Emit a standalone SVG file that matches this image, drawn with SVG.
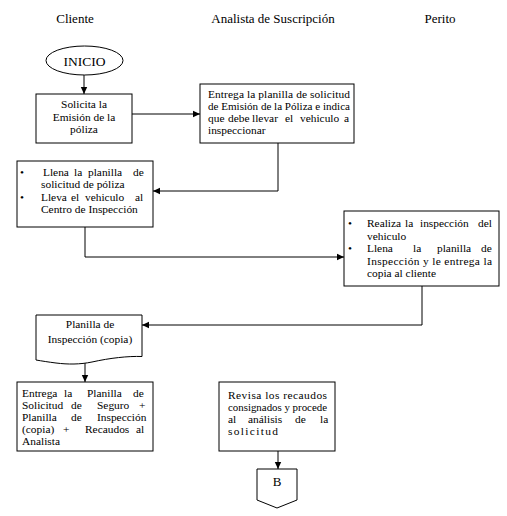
<svg xmlns="http://www.w3.org/2000/svg" width="507" height="516" viewBox="0 0 507 516">
<defs>
<style>
text{font-family:'Liberation Serif','Times New Roman','DejaVu Serif',serif;fill:#000}
.h{font-size:13px}
.t{font-size:11.4px}
.c{text-anchor:middle}
.s{fill:#fff;stroke:#000;stroke-width:1}
.ln{fill:none;stroke:#000;stroke-width:1}
</style>
<marker id="ah" markerWidth="8" markerHeight="8" refX="7" refY="4" orient="auto" markerUnits="userSpaceOnUse">
<path d="M0,0.8 L7,4 L0,7.2 Z" fill="#000"/>
</marker>
</defs>
<rect width="507" height="516" fill="#fff"/>
<g id="headers">
<text class="h c" x="75" y="23">Cliente</text>
<text class="h c" x="273" y="23">Analista de Suscripción</text>
<text class="h c" x="440" y="23">Perito</text>
</g>
<g id="connectors">
<path class="ln" d="M84,75 V94" marker-end="url(#ah)"/>
<path class="ln" d="M132,114 H200" marker-end="url(#ah)"/>
<path class="ln" d="M278,143 V191 H153" marker-end="url(#ah)"/>
<path class="ln" d="M85,227 V257 H344" marker-end="url(#ah)"/>
<path class="ln" d="M422,286 V325 H142" marker-end="url(#ah)"/>
<path class="ln" d="M85,362 V382" marker-end="url(#ah)"/>
<path class="ln" d="M278,450 V469" marker-end="url(#ah)"/>
</g>
<g id="inicio">
<ellipse class="s" cx="84.5" cy="60.5" rx="38.5" ry="14.5"/>
<text class="c" x="84.5" y="65.5" style="font-size:13.5px">INICIO</text>
</g>
<g id="solicita">
<rect class="s" x="36" y="94" width="96" height="49"/>
<text class="t c" x="84" y="108">Solicita la</text>
<text class="t c" x="84" y="121">Emisión de la</text>
<text class="t c" x="84" y="133">póliza</text>
</g>
<g id="entrega-planilla">
<rect class="s" x="200" y="84" width="154" height="59"/>
<text class="t" x="208" y="98" textLength="142" lengthAdjust="spacing">Entrega la planilla de solicitud</text>
<text class="t" x="208" y="110" textLength="142" lengthAdjust="spacingAndGlyphs">de Emisión de la Póliza e indica</text>
<text class="t" y="122"><tspan x="208">que</tspan><tspan x="228">debe</tspan><tspan x="252">llevar</tspan><tspan x="285">el</tspan><tspan x="300">vehiculo</tspan><tspan x="344">a</tspan></text>
<text class="t" x="208" y="134">inspeccionar</text>
</g>
<g id="llena">
<rect class="s" x="17" y="161" width="136" height="66"/>
<text class="t" x="20" y="176">•</text>
<text class="t" y="176"><tspan x="43">Llena</tspan><tspan x="74">la</tspan><tspan x="88">planilla</tspan><tspan x="133">de</tspan></text>
<text class="t" x="41" y="188">solicitud de póliza</text>
<text class="t" x="20" y="201">•</text>
<text class="t" y="201"><tspan x="41">Lleva</tspan><tspan x="71">el</tspan><tspan x="85">vehiculo</tspan><tspan x="135">al</tspan></text>
<text class="t" x="41" y="213">Centro de Inspección</text>
</g>
<g id="inspeccion">
<rect class="s" x="344" y="211" width="155" height="75"/>
<text class="t" x="348" y="227">•</text>
<text class="t" y="227"><tspan x="367">Realiza</tspan><tspan x="405">la</tspan><tspan x="420">inspección</tspan><tspan x="478">del</tspan></text>
<text class="t" x="367" y="240">vehiculo</text>
<text class="t" x="348" y="252">•</text>
<text class="t" y="252"><tspan x="367">Llena</tspan><tspan x="413">la</tspan><tspan x="437">planilla</tspan><tspan x="481">de</tspan></text>
<text class="t" x="367" y="265" textLength="125" lengthAdjust="spacing">Inspección y le entrega la</text>
<text class="t" x="367" y="277">copia al cliente</text>
</g>
<g id="planilla-doc">
<path class="s" d="M36,315 H142 V356.5 C128,356 110,358 92,362 C80,364.5 68,364.5 56,363 C48,362 42,361 36,360 Z"/>
<text class="t c" x="90" y="328">Planilla de</text>
<text class="t c" x="90" y="343">Inspección (copia)</text>
</g>
<g id="entrega-analista">
<rect class="s" x="17" y="382" width="136" height="69"/>
<text class="t" y="397"><tspan x="22">Entrega</tspan><tspan x="64">la</tspan><tspan x="87">Planilla</tspan><tspan x="133">de</tspan></text>
<text class="t" y="409"><tspan x="22">Solicitud</tspan><tspan x="71">de</tspan><tspan x="97">Seguro</tspan><tspan x="139">+</tspan></text>
<text class="t" y="421"><tspan x="22">Planilla</tspan><tspan x="71">de</tspan><tspan x="97">Inspección</tspan></text>
<text class="t" y="433"><tspan x="22">(copia)</tspan><tspan x="63">+</tspan><tspan x="85">Recaudos</tspan><tspan x="136">al</tspan></text>
<text class="t" x="22" y="445">Analista</text>
</g>
<g id="revisa">
<rect class="s" x="219" y="382" width="116" height="69"/>
<text class="t" x="228" y="399" textLength="99" lengthAdjust="spacing">Revisa los recaudos</text>
<text class="t" x="228" y="411" textLength="99" lengthAdjust="spacingAndGlyphs">consignados y procede</text>
<text class="t" y="423"><tspan x="228">al</tspan><tspan x="248">análisis</tspan><tspan x="295">de</tspan><tspan x="320">la</tspan></text>
<text class="t" x="228" y="435" textLength="50" lengthAdjust="spacing">solicitud</text>
</g>
<g id="conector-b">
<path class="s" d="M257,469 H297 V500 L277,508 L257,500 Z"/>
<text class="c" x="277" y="486" style="font-size:13px">B</text>
</g>
</svg>
